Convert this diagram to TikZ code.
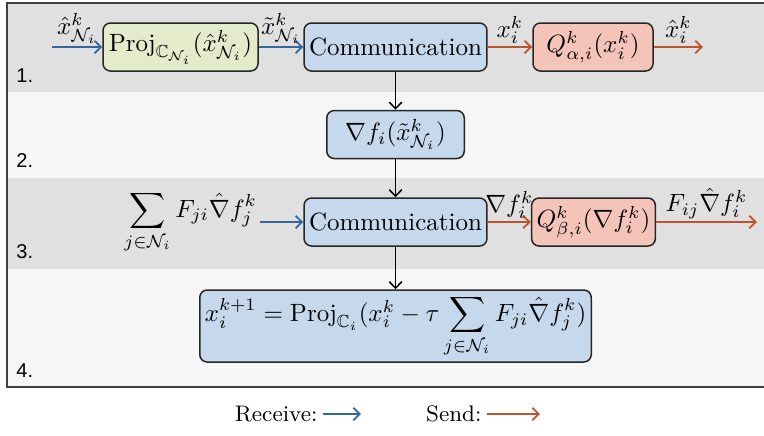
\documentclass[tikz,border=0pt]{standalone}
\usepackage{amsmath,amssymb}
\usepackage{fontspec}
\newfontfamily\numfont{Liberation Sans}
\usetikzlibrary{positioning,arrows.meta}
\definecolor{bandgray}{RGB}{224,224,224}
\definecolor{bandlight}{RGB}{246,246,246}
\definecolor{boxblue}{RGB}{197,216,236}
\definecolor{boxgreen}{RGB}{227,235,202}
\definecolor{boxred}{RGB}{245,196,184}
\definecolor{recvblue}{RGB}{52,104,156}
\definecolor{sendred}{RGB}{192,82,46}
\begin{document}
\begin{tikzpicture}[x=0.4pt,y=-0.4pt,>={Straight Barb[length=2.6pt,width=5pt]}]
\tikzstyle{box}=[draw=black!85,line width=0.6pt,rounded corners=3pt,
                 minimum height=19.2pt,inner sep=2pt]
\tikzstyle{recv}=[->,recvblue,line width=0.7pt]
\tikzstyle{send}=[->,sendred,line width=0.7pt]
\tikzstyle{flow}=[->,black,line width=0.6pt]
\tikzstyle{steplabel}=[anchor=base west,inner sep=0pt,font=\numfont\footnotesize]
\tikzstyle{lbl}=[above,inner sep=1pt,text=black]
\useasboundingbox (0,0) rectangle (764,435);
% bands
\fill[bandgray]  (7,3)   rectangle (770,92);
\fill[bandlight] (7,92)  rectangle (770,178);
\fill[bandgray]  (7,178) rectangle (770,269);
\fill[bandlight] (7,269) rectangle (770,387);
\draw[black!75,line width=0.8pt] (7,3) rectangle (770,387);
\node[steplabel] (s1) at (16,82)  {1.};
\node[steplabel] (s2) at (16,167) {2.};
\node[steplabel] (s3) at (16,258) {3.};
\node[steplabel] (s4) at (16,377) {4.};
% step 1
\node[box,fill=boxgreen,minimum width=62pt] (proj) at (180.5,47)
     {$\mathrm{Proj}_{\mathbb{C}_{\mathcal{N}_i}}(\hat{x}^k_{\mathcal{N}_i})$};
\node[box,fill=boxblue,minimum width=69pt] (comm1) at (395.5,47) {Communication};
\node[box,fill=boxred,minimum width=48pt] (qa) at (593,47) {$Q^k_{\alpha,i}(x_i^k)$};
\coordinate (in1) at (52,47);
\coordinate (out1) at (703,47);
\draw[recv] (in1) -- node[lbl] {$\hat{x}^k_{\mathcal{N}_i}$} (proj);
\draw[recv] (proj) -- node[lbl] {$\tilde{x}^k_{\mathcal{N}_i}$} (comm1);
\draw[send] (comm1) -- node[lbl] {$x_i^k$} (qa);
\draw[send] (qa) -- node[lbl] {$\hat{x}_i^k$} (out1);
% step 2
\node[box,fill=boxblue,minimum width=55pt] (grad) at (395.5,134.5)
     {$\nabla f_i(\tilde{x}^k_{\mathcal{N}_i})$};
% step 3
\node[box,fill=boxblue,minimum width=69pt] (comm2) at (395.5,222) {Communication};
\node[box,fill=boxred,minimum width=48.4pt] (qb) at (593.5,222)
     {$Q^k_{\beta,i}(\nabla f_i^k)$};
\node[anchor=east,inner sep=1pt] (sum) at (260,222)
     {$\displaystyle\sum_{j\in\mathcal{N}_i} F_{ji}\hat{\nabla} f_j^k$};
\coordinate (out2) at (757,222);
\draw[recv] (sum) -- (comm2);
\draw[send] (comm2) -- node[lbl] {$\nabla f_i^k$} (qb);
\draw[send] (qb) -- node[lbl] {$F_{ij}\hat{\nabla} f_i^k$} (out2);
% step 4
\node[box,fill=boxblue,minimum width=156pt,minimum height=28.8pt] (upd) at (395.5,326)
     {$x_i^{k+1} = \mathrm{Proj}_{\mathbb{C}_i}(x_i^k - \tau \displaystyle\sum_{j\in\mathcal{N}_i} F_{ji}\hat{\nabla} f_j^k)$};
\draw[flow] (comm1) -- (grad);
\draw[flow] (grad) -- (comm2);
\draw[flow] (comm2) -- (upd);
% legend
\node[anchor=east,font=\small,inner sep=2pt] (recvtxt) at (323,414) {Receive:};
\node[anchor=east,font=\small,inner sep=2pt] (sendtxt) at (487,414) {Send:};
\coordinate (recvend) at (361,414);
\coordinate (sendend) at (540,414);
\draw[recv] (recvtxt) -- (recvend);
\draw[send] (sendtxt) -- (sendend);
\end{tikzpicture}
\end{document}
